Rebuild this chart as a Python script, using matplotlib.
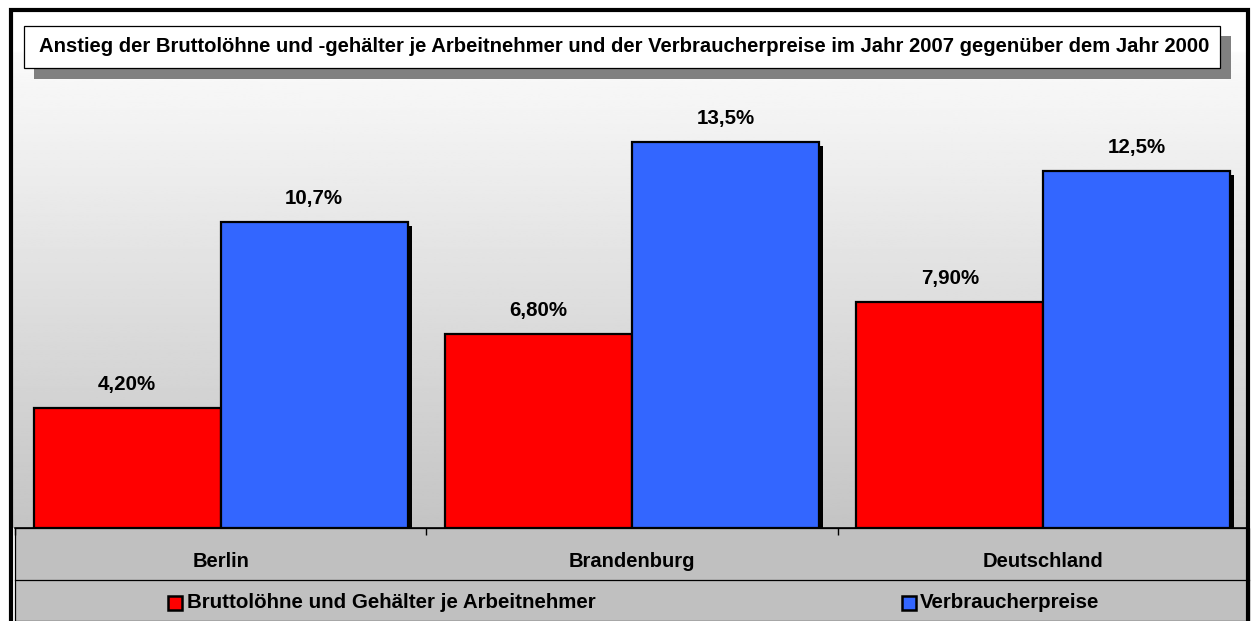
import numpy as np
import matplotlib
matplotlib.use("Agg")
import matplotlib.pyplot as plt
from matplotlib.patches import Rectangle
from matplotlib.transforms import ScaledTranslation

# Data
categories = ["Berlin", "Brandenburg", "Deutschland"]
wages = [4.2, 6.8, 7.9]
prices = [10.7, 13.5, 12.5]
wage_labels = ["4,20%", "6,80%", "7,90%"]
price_labels = ["10,7%", "13,5%", "12,5%"]
series_names = ["Bruttolöhne und Gehälter je Arbeitnehmer", "Verbraucherpreise"]
title = ("Anstieg der Bruttolöhne und -gehälter je Arbeitnehmer und der "
         "Verbraucherpreise im Jahr 2007 gegenüber dem Jahr 2000")

RED = "#ff0000"
BLUE = "#3366ff"
BAND = "#c0c0c0"

W, H = 1252, 621
plt.rcParams["font.family"] = ["Liberation Sans", "DejaVu Sans"]
plt.rcParams["font.weight"] = "bold"

fig = plt.figure(figsize=(W / 100, H / 100), dpi=100)
fig.patch.set_facecolor("white")


def fx(px):
    return px / W


def fy(py):
    return 1 - py / H


# gradient background of chart area
bg = fig.add_axes([fx(12), fy(528), fx(1248) - fx(12), fy(12) - fy(528)], zorder=-3)
grad = np.linspace(196, 255, 256)
grad[-20:] = 255
bg.imshow(np.repeat(grad[:, None], 2, axis=1), cmap="gray", vmin=0, vmax=255,
          aspect="auto", origin="lower", extent=[0, 1, 0, 1])
bg.set_axis_off()

# data table style bands (under the main axes)
band = Rectangle((fx(15), 0), fx(1249) - fx(15), fy(528), transform=fig.transFigure,
                 facecolor=BAND, edgecolor="black", linewidth=0.9, zorder=-2)
fig.patches.append(band)

# main plot
ax = fig.add_axes([fx(15), fy(528), fx(1249) - fx(15), fy(99) - fy(528)])
ax.patch.set_alpha(0)
x = np.arange(len(categories))
width = 0.455
shadow = ScaledTranslation(4 / 100, -4 / 100, fig.dpi_scale_trans)
for off, vals, color in [(-width / 2, wages, RED), (width / 2, prices, BLUE)]:
    bars = ax.bar(x + off, vals, width, color=color, edgecolor="black",
                  linewidth=1.6, zorder=3)
    for b in bars:
        s = Rectangle(b.get_xy(), b.get_width(), b.get_height(),
                      facecolor="black", edgecolor="none", zorder=2,
                      transform=ax.transData + shadow)
        ax.add_patch(s)

for i in range(len(categories)):
    ax.annotate(wage_labels[i], (x[i] - width / 2, wages[i]), xytext=(0, 10),
                textcoords="offset points", ha="center", va="bottom",
                fontsize=14.8, fontweight="bold")
    ax.annotate(price_labels[i], (x[i] + width / 2, prices[i]), xytext=(0, 10),
                textcoords="offset points", ha="center", va="bottom",
                fontsize=14.8, fontweight="bold")

ax.set_xlim(-0.5, len(categories) - 0.5)
ax.set_ylim(0, 15)
for sp in ["top", "right", "left"]:
    ax.spines[sp].set_visible(False)
ax.spines["bottom"].set_linewidth(1.2)
ax.set_yticks([])
ax.set_xticks(x)
ax.set_xticklabels(categories, fontsize=14.5, fontweight="bold")
ax.tick_params(axis="x", which="major", length=0, pad=17)
ax.set_xticks(np.arange(len(categories)) - 0.5, minor=True)
ax.tick_params(axis="x", which="minor", length=5, width=1, direction="out")

fig.add_artist(plt.Line2D([fx(15), fx(1249)], [fy(580), fy(580)],
                          transform=fig.transFigure, color="black", lw=0.9))

# legend row
for (mx, tx), name, color in zip([(168, 187), (902, 920)], series_names, [RED, BLUE]):
    fig.patches.append(Rectangle((fx(mx), fy(610)), fx(14), 14 / H,
                                 transform=fig.transFigure, facecolor=color,
                                 edgecolor="black", linewidth=1.8, zorder=5))
    fig.text(fx(tx), fy(603), name, ha="left", va="center", fontsize=14.8,
             fontweight="bold")

# title box with shadow
fig.patches.append(Rectangle((fx(34), fy(79)), fx(1231) - fx(34), fy(36) - fy(79),
                             transform=fig.transFigure, facecolor="#808080",
                             edgecolor="none", zorder=5))
fig.patches.append(Rectangle((fx(24), fy(68)), fx(1220) - fx(24), fy(26) - fy(68),
                             transform=fig.transFigure, facecolor="white",
                             edgecolor="black", linewidth=0.9, zorder=6))
fig.text(fx(624), fy(47), title, ha="center", va="center", fontsize=14.6,
         fontweight="bold", zorder=7)

# outer border
fig.patches.append(Rectangle((fx(11), -0.05), fx(1248) - fx(11), fy(10) + 0.05,
                             transform=fig.transFigure, facecolor="none",
                             edgecolor="black", linewidth=3, zorder=8))

fig.savefig("out.png", dpi=100)
